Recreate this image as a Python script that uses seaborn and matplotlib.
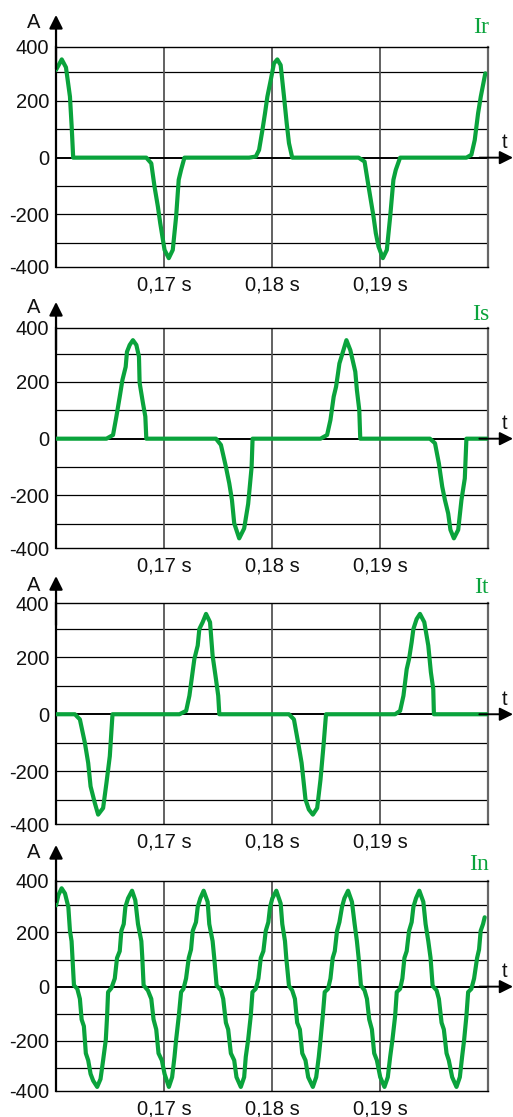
import numpy as np
import pandas as pd
import matplotlib
matplotlib.use('Agg')
import matplotlib.pyplot as plt
import seaborn as sns
from matplotlib.transforms import ScaledTranslation

# Traces: time in ms, current in A
ir_ms = [160.0, 160.53, 160.92, 161.29, 161.45, 161.59, 168.36, 168.82, 169.12, 169.43,
         169.65, 170.05, 170.44, 170.81, 171.12, 171.36, 171.58, 171.89, 177.88, 178.50,
         178.80, 179.11, 179.35, 179.57, 179.88, 180.18, 180.49, 180.80, 181.11, 181.36,
         181.57, 181.87, 188.02, 188.57, 188.94, 189.40, 189.61, 189.86, 190.26, 190.63,
         190.94, 191.24, 191.46, 191.86, 198.00, 198.46, 198.77, 199.08, 199.33, 199.75]
ir_a = [309, 346, 318, 215, 109, 0, 0, -20, -102, -172,
        -231, -325, -354, -325, -208, -78, -43, 0, 0, 4,
        27, 97, 156, 215, 273, 332, 346, 326, 215, 121,
        51, 0, 0, -14, -102, -208, -266, -313, -354, -325,
        -208, -78, -43, 0, 0, 10, 62, 156, 215, 297]

is_ms = [160.0, 164.67, 165.28, 165.59, 165.90, 166.15, 166.45, 166.57, 166.82, 167.12,
         167.44, 167.68, 167.74, 168.05, 168.27, 168.36, 174.81, 175.27, 175.73, 176.04,
         176.29, 176.50, 176.96, 177.42, 177.79, 178.11, 178.20, 184.49, 185.10, 185.41,
         185.71, 185.93, 186.11, 186.24, 186.48, 186.89, 187.25, 187.71, 187.86, 188.08,
         188.17, 194.62, 195.09, 195.45, 195.76, 196.01, 196.31, 196.52, 196.84, 197.24,
         197.54, 197.85, 198.00, 200.0]
is_a = [0, 0, 13, 78, 148, 207, 253, 306, 330, 347,
        330, 289, 197, 125, 78, 0, 0, -22, -99, -157,
        -216, -298, -351, -316, -230, -100, 0, 0, 13, 66,
        148, 183, 230, 265, 295, 347, 312, 236, 171, 101,
        0, 0, -16, -87, -169, -216, -263, -321, -351, -321,
        -216, -140, 0, 0]

it_ms = [160.0, 161.75, 162.21, 162.67, 162.98, 163.20, 163.59, 163.90, 164.36, 164.67,
         164.98, 165.23, 171.43, 172.05, 172.35, 172.60, 172.81, 173.12, 173.27, 173.58,
         173.89, 174.26, 174.50, 174.81, 175.02, 175.12, 181.57, 182.03, 182.42, 182.74,
         183.10, 183.41, 183.78, 184.18, 184.49, 184.79, 185.00, 191.40, 191.86, 192.17,
         192.47, 192.69, 192.93, 193.09, 193.39, 193.70, 194.10, 194.47, 194.71, 194.93,
         194.99, 200.0]
it_a = [0, 0, -18, -100, -171, -253, -311, -352, -329, -241,
        -147, 0, 0, 12, 65, 135, 194, 241, 299, 323,
        352, 323, 205, 123, 65, 0, 0, -18, -100, -171,
        -299, -334, -352, -329, -229, -100, 0, 0, 12, 65,
        158, 194, 253, 299, 334, 352, 323, 241, 147, 88,
        0, 0]

in_ms = [160.0, 160.22, 160.52, 160.83, 161.14, 161.29, 161.44, 161.66, 161.97, 162.21,
         162.37, 162.58, 162.76, 162.98, 163.20, 163.44, 163.81, 164.12, 164.36, 164.61,
         164.73, 164.82, 165.13, 165.44, 165.65, 165.90, 166.05, 166.27, 166.42, 166.67,
         167.04, 167.34, 167.59, 167.90, 167.99, 168.11, 168.51, 168.82, 169.03, 169.28,
         169.49, 169.80, 170.05, 170.45, 170.75, 170.97, 171.12, 171.37, 171.58, 171.80,
         172.04, 172.29, 172.50, 172.66, 172.96, 173.12, 173.36, 173.67, 174.04, 174.19,
         174.50, 174.65, 174.87, 175.27, 175.48, 175.73, 175.94, 176.19, 176.50, 176.71,
         177.11, 177.42, 177.57, 177.79, 178.03, 178.19, 178.49, 178.74, 178.96, 179.20,
         179.42, 179.66, 179.82, 180.03, 180.40, 180.80, 180.95, 181.20, 181.32, 181.57,
         181.87, 182.12, 182.33, 182.58, 182.80, 183.10, 183.35, 183.78, 184.09, 184.33,
         184.49, 184.70, 184.88, 185.19, 185.41, 185.62, 185.81, 186.02, 186.24, 186.48,
         186.70, 187.04, 187.40, 187.65, 187.86, 188.02, 188.23, 188.57, 188.79, 189.00,
         189.25, 189.46, 189.71, 190.02, 190.41, 190.72, 190.94, 191.15, 191.40, 191.55,
         191.86, 192.07, 192.26, 192.47, 192.69, 192.93, 193.09, 193.33, 193.64, 194.01,
         194.22, 194.47, 194.68, 194.87, 195.24, 195.45, 195.70, 195.91, 196.16, 196.37,
         196.68, 197.08, 197.39, 197.60, 197.79, 198.00, 198.16, 198.46, 198.71, 198.99,
         199.17, 199.32, 199.54, 199.69]
in_a = [300, 338, 363, 344, 294, 206, 168, 5, -8, -45,
        -121, -146, -246, -272, -322, -347, -370, -341, -272, -196,
        -108, -20, -5, 30, 106, 131, 206, 231, 294, 326,
        354, 319, 231, 168, 106, 5, -14, -45, -121, -158,
        -246, -272, -322, -370, -334, -259, -196, -108, -20, -8,
        30, 106, 137, 206, 238, 294, 326, 354, 313, 231,
        168, 106, 5, -14, -45, -133, -158, -246, -272, -334,
        -370, -334, -259, -196, -108, -20, -8, 30, 106, 131,
        206, 238, 294, 326, 354, 307, 231, 168, 106, 3,
        -14, -45, -133, -158, -246, -272, -334, -370, -334, -259,
        -196, -108, -20, -8, 30, 106, 131, 206, 238, 294,
        326, 354, 313, 231, 168, 106, 5, -14, -45, -121,
        -158, -246, -272, -334, -370, -334, -259, -196, -108, -20,
        -8, 30, 106, 131, 206, 238, 294, 326, 354, 313,
        231, 168, 106, 3, -14, -45, -133, -158, -246, -272,
        -334, -370, -334, -259, -196, -108, -20, -8, 30, 106,
        137, 206, 231, 256]

panel_names = ['Ir', 'Is', 'It', 'In']
panel_ms = [ir_ms, is_ms, it_ms, in_ms]
panel_a = [ir_a, is_a, it_a, in_a]

x_ticks = [0.17, 0.18, 0.19]
x_tick_labels = ['0,17 s', '0,18 s', '0,19 s']
y_tick_labels = ['-400', '-200', '0', '200', '400']
y_grid = [-300, -200, -100, 100, 200, 300]

# axes rectangles in figure fraction (left, bottom, width, height)
rects = [(0.1092, 0.7610, 0.8421, 0.1970),
         (0.1092, 0.5094, 0.8421, 0.1970),
         (0.1092, 0.2623, 0.8421, 0.1978),
         (0.1092, 0.0233, 0.8421, 0.1880)]
arrow_up = [32, 26, 27, 36]   # px the y arrow goes above the frame
a_up = [24, 20, 18, 28]       # px the "A" sits above the frame
name_up = [19, 13, 16, 16]    # px the trace name sits above the frame

Y_LO, Y_HI = -385, 390
GREEN = '#0aa33c'

sns.set_theme(style='white')
plt.rcParams['font.family'] = ['Liberation Sans', 'DejaVu Sans']

fig = plt.figure(figsize=(5.13, 11.17), dpi=100)
px = lambda dx, dy: ScaledTranslation(dx / 100, dy / 100, fig.dpi_scale_trans)

for k in range(4):
    ax = fig.add_axes(rects[k])
    df = pd.DataFrame({'t': np.array(panel_ms[k]) / 1000.0, 'i': panel_a[k]})

    for g in y_grid:
        ax.axhline(g, color='black', lw=0.9, zorder=1)
    for xv in x_ticks:
        ax.axvline(xv, color='#555555', lw=1.3, zorder=1)
    ax.axhline(0, color='black', lw=1.4, zorder=2)

    sns.lineplot(data=df, x='t', y='i', ax=ax, color=GREEN, lw=3.0,
                 sort=False, estimator=None, zorder=3,
                 solid_joinstyle='round', solid_capstyle='round')

    ax.set_xlim(0.16, 0.20)
    ax.set_ylim(Y_LO, Y_HI)
    ax.set_xlabel('')
    ax.set_ylabel('')

    ax.set_xticks(x_ticks)
    ax.set_xticklabels(x_tick_labels, fontsize=14.5, color='#111111')
    for lab in ax.get_xticklabels():
        lab.set_transform(lab.get_transform() + px(9, 0))
    ax.set_yticks([Y_LO, -200, 0, 200, Y_HI])
    ax.set_yticklabels(y_tick_labels, fontsize=14.5, color='#111111')
    ylabs = ax.get_yticklabels()
    ylabs[0].set_transform(ylabs[0].get_transform() + px(0, 4))
    ylabs[-1].set_transform(ylabs[-1].get_transform() + px(0, -5))
    ax.tick_params(axis='both', length=0)
    ax.tick_params(axis='x', pad=6)
    ax.tick_params(axis='y', pad=5)

    for side in ['top', 'bottom']:
        ax.spines[side].set_color('black')
        ax.spines[side].set_linewidth(1.0)
    ax.spines['left'].set_color('black')
    ax.spines['left'].set_linewidth(1.6)
    ax.spines['right'].set_color('#666666')
    ax.spines['right'].set_linewidth(1.6)

    # vertical current axis arrow
    ax.annotate('', xy=(0, 1), xycoords=ax.transAxes + px(0, arrow_up[k]),
                xytext=(0, 0.9), textcoords='axes fraction',
                arrowprops=dict(arrowstyle='-|>', color='black', lw=1.6,
                                mutation_scale=20, shrinkA=0, shrinkB=0))
    ax.annotate('A', xy=(0, 1), xycoords=ax.transAxes + px(-22, a_up[k]),
                ha='center', va='center', fontsize=14.5, color='#111111')

    # time axis arrow
    ax.annotate('', xy=(1, 0), xycoords=ax.get_yaxis_transform() + px(25, 0),
                xytext=(0.98, 0), textcoords=ax.get_yaxis_transform(),
                arrowprops=dict(arrowstyle='-|>', color='black', lw=1.4,
                                mutation_scale=20, shrinkA=0, shrinkB=0))
    ax.annotate('t', xy=(1, 0), xycoords=ax.get_yaxis_transform() + px(17, 15),
                ha='center', va='center', fontsize=14.5, color='#111111')

    ax.annotate(panel_names[k], xy=(1, 1), xycoords=ax.transAxes + px(1, name_up[k]),
                ha='right', va='center', fontsize=17, color=GREEN,
                family=['Liberation Serif', 'DejaVu Serif'])

fig.savefig('out.png', dpi=100)
